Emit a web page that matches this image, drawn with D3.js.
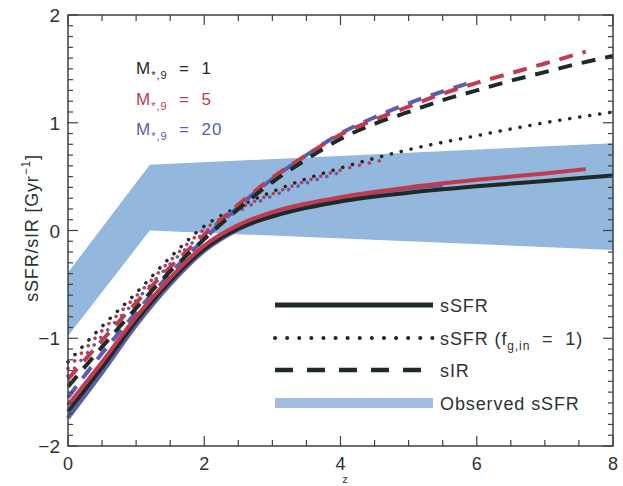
<!DOCTYPE html>
<html><head><meta charset="utf-8">
<script src="https://cdn.jsdelivr.net/npm/d3@7"></script>
<style>
html,body{margin:0;padding:0;background:#fff;}
svg text{font-family:"Liberation Sans",Arial,sans-serif;fill:#2a332f;}
</style></head>
<body><svg id="c" width="623" height="486"></svg>
<script>
// ---- data ----
const xTicks = [0, 2, 4, 6, 8];
const yTicks = [-2, -1, 0, 1, 2];
const yTickLabels = ["\u22122", "\u22121", "0", "1", "2"];

// observed sSFR band
const bandUpperZ = [0, 1.2, 8];
const bandUpperV = [-0.39, 0.61, 0.81];
const bandLowerZ = [0, 1.2, 8];
const bandLowerV = [-0.98, 0.0, -0.18];

// sSFR (solid)
const solidZ1 = [0, 0.5, 1, 1.5, 2, 2.5, 3, 3.5, 4, 5, 6, 7, 8];
const solidV1 = [-1.68, -1.27, -0.84, -0.47, -0.17, 0.02, 0.13, 0.21, 0.27, 0.35, 0.41, 0.46, 0.51];
const solidZ5 = [0, 0.5, 1, 1.5, 2, 2.5, 3, 3.5, 4, 5, 6, 7, 7.6];
const solidV5 = [-1.62, -1.22, -0.80, -0.44, -0.14, 0.05, 0.17, 0.25, 0.31, 0.40, 0.47, 0.53, 0.57];
const solidZ20 = [0, 0.5, 1, 1.5, 2, 2.5, 3, 3.5, 4, 5, 5.5];
const solidV20 = [-1.74, -1.32, -0.88, -0.50, -0.19, 0.01, 0.14, 0.23, 0.30, 0.39, 0.42];

// sSFR (f_g,in = 1) (dotted)
const dotZ1 = [0, 0.5, 1, 1.5, 2, 2.5, 3, 3.5, 4, 5, 6, 7, 8];
const dotV1 = [-1.22, -0.89, -0.58, -0.25, 0.04, 0.22, 0.36, 0.48, 0.58, 0.75, 0.88, 1.0, 1.1];
const dotZ5 = [0, 0.5, 1, 1.5, 2, 2.5, 3, 3.5, 4, 4.6];
const dotV5 = [-1.28, -0.93, -0.61, -0.28, 0.01, 0.20, 0.34, 0.46, 0.56, 0.65];
const dotZ20 = [0, 0.5, 1, 1.5, 2, 2.5, 3, 3.5, 4];
const dotV20 = [-1.35, -0.98, -0.65, -0.31, -0.02, 0.18, 0.32, 0.44, 0.54];

// sIR (dashed)
const dashZ1 = [0, 0.5, 1, 1.5, 2, 2.5, 3, 3.5, 4, 4.5, 5, 5.5, 6, 6.5, 7, 7.5, 8];
const dashV1 = [-1.45, -1.08, -0.72, -0.38, -0.08, 0.20, 0.45, 0.66, 0.85, 0.99, 1.10, 1.21, 1.30, 1.39, 1.47, 1.55, 1.62];
const dashZ5 = [0, 0.5, 1, 1.5, 2, 2.5, 3, 3.5, 4, 4.5, 5, 5.5, 6, 6.5, 7, 7.6];
const dashV5 = [-1.38, -1.02, -0.67, -0.34, -0.04, 0.24, 0.49, 0.70, 0.89, 1.03, 1.15, 1.27, 1.37, 1.46, 1.55, 1.66];
const dashZ20 = [0, 0.5, 1, 1.5, 2, 2.5, 3, 3.5, 4, 4.5, 5, 5.5, 5.85];
const dashV20 = [-1.55, -1.14, -0.76, -0.40, -0.08, 0.22, 0.48, 0.70, 0.90, 1.05, 1.18, 1.29, 1.36];

const massLabels = ["1", "5", "20"];
const colors = ["#1f2a27", "#c23a4e", "#5a5eae"];
const legendLabels = ["sSFR", "sSFR (f", "sIR", "Observed sSFR"];

// ---- drawing ----
const svg = d3.select("#c");
const x = d3.scaleLinear().domain([0, 8]).range([68, 613]);
const y = d3.scaleLinear().domain([-2, 2]).range([446, 15]);
const bandColor = "#93b7dd";
const frameColor = "#3a4440";

// band
const bandPts = bandUpperZ.map((z, i) => [x(z), y(bandUpperV[i])])
  .concat(bandLowerZ.map((z, i) => [x(z), y(bandLowerV[i])]).reverse());
svg.append("polygon").attr("points", bandPts.map(p => p.join(",")).join(" "))
  .attr("fill", bandColor);

const line = d3.line().x(d => x(d[0])).y(d => y(d[1])).curve(d3.curveMonotoneX);
const zip = (zs, vs) => zs.map((z, i) => [z, vs[i]]);

const series = [
  {z: dotZ20, v: dotV20, c: 2, type: "dot"},
  {z: dotZ5, v: dotV5, c: 1, type: "dot"},
  {z: dotZ1, v: dotV1, c: 0, type: "dot"},
  {z: dashZ20, v: dashV20, c: 2, type: "dash"},
  {z: dashZ5, v: dashV5, c: 1, type: "dash"},
  {z: dashZ1, v: dashV1, c: 0, type: "dash"},
  {z: solidZ20, v: solidV20, c: 2, type: "solid"},
  {z: solidZ1, v: solidV1, c: 0, type: "solid"},
  {z: solidZ5, v: solidV5, c: 1, type: "solid"},
];
const g = svg.append("g");
series.forEach(s => {
  const p = g.append("path").attr("d", line(zip(s.z, s.v)))
    .attr("fill", "none").attr("stroke", colors[s.c]);
  if (s.type === "solid") p.attr("stroke-width", 4);
  if (s.type === "dash") p.attr("stroke-width", 4).attr("stroke-dasharray", "14,10");
  if (s.type === "dot") p.attr("stroke-width", 3.5).attr("stroke-dasharray", "0.1,10").attr("stroke-linecap", "round");
});

// frame
svg.append("rect").attr("x", 68).attr("y", 15).attr("width", 545).attr("height", 431)
  .attr("fill", "none").attr("stroke", frameColor).attr("stroke-width", 1.5);

// ticks
const yMinor = d3.range(-2, 2.0001, 0.1);
yMinor.forEach(v => {
  const major = Math.abs(v - Math.round(v)) < 1e-6;
  const len = major ? 10 : 5;
  svg.append("line").attr("x1", 68).attr("x2", 68 + len).attr("y1", y(v)).attr("y2", y(v))
    .attr("stroke", frameColor).attr("stroke-width", 1.2);
  svg.append("line").attr("x1", 613).attr("x2", 613 - len).attr("y1", y(v)).attr("y2", y(v))
    .attr("stroke", frameColor).attr("stroke-width", 1.2);
});
const xMinor = d3.range(0, 8.0001, 0.5);
xMinor.forEach(v => {
  const major = Math.abs(v / 2 - Math.round(v / 2)) < 1e-6;
  const len = major ? 10 : 6;
  svg.append("line").attr("x1", x(v)).attr("x2", x(v)).attr("y1", 446).attr("y2", 446 - len)
    .attr("stroke", frameColor).attr("stroke-width", 1.2);
  svg.append("line").attr("x1", x(v)).attr("x2", x(v)).attr("y1", 15).attr("y2", 15 + len)
    .attr("stroke", frameColor).attr("stroke-width", 1.2);
});

// tick labels
yTicks.forEach((v, i) => {
  svg.append("text").attr("x", 60).attr("y", y(v) + 7).attr("text-anchor", "end")
    .attr("font-size", 19).text(yTickLabels[i]);
});
xTicks.forEach(v => {
  svg.append("text").attr("x", x(v)).attr("y", 470).attr("text-anchor", "middle")
    .attr("font-size", 18).text(v);
});
svg.append("text").attr("x", 345).attr("y", 483).attr("text-anchor", "middle")
  .attr("font-size", 11).text("z");

// y label
const yl = svg.append("text").attr("transform", "translate(38,228) rotate(-90)")
  .attr("text-anchor", "middle").attr("font-size", 18).attr("letter-spacing", 0.8);
yl.append("tspan").text("sSFR/sIR [Gyr");
yl.append("tspan").attr("font-size", 12).attr("dy", -8).text("\u22121");
yl.append("tspan").attr("dy", 8).text("]");

// mass legend
massLabels.forEach((m, i) => {
  const t = svg.append("text").attr("x", 136).attr("y", 74 + i * 30.5)
    .attr("font-size", 17).attr("letter-spacing", 1).style("fill", colors[i]);
  t.append("tspan").text("M");
  t.append("tspan").attr("font-size", 11).attr("dy", 5).text("*,9");
  t.append("tspan").attr("dy", -5).attr("xml:space", "preserve").text("  =  " + m);
});

// bottom legend
const lx1 = 275, lx2 = 433, ly = [305, 338, 370, 403];
svg.append("line").attr("x1", lx1).attr("x2", lx2).attr("y1", ly[0]).attr("y2", ly[0])
  .attr("stroke", colors[0]).attr("stroke-width", 5);
svg.append("line").attr("x1", lx1).attr("x2", lx2).attr("y1", ly[1]).attr("y2", ly[1])
  .attr("stroke", colors[0]).attr("stroke-width", 4).attr("stroke-dasharray", "0.1,12")
  .attr("stroke-linecap", "round");
svg.append("line").attr("x1", lx1).attr("x2", lx2 - 4).attr("y1", ly[2]).attr("y2", ly[2])
  .attr("stroke", colors[0]).attr("stroke-width", 4.5).attr("stroke-dasharray", "18,14");
svg.append("line").attr("x1", lx1).attr("x2", lx2).attr("y1", ly[3]).attr("y2", ly[3])
  .attr("stroke", "#a2bde0").attr("stroke-width", 10);
const txt = (i) => svg.append("text").attr("x", 440).attr("y", ly[i] + 7)
  .attr("font-size", 18).attr("letter-spacing", 0.9);
txt(0).text(legendLabels[0]);
const t1 = txt(1);
t1.append("tspan").text(legendLabels[1]);
t1.append("tspan").attr("font-size", 12).attr("dy", 5).text("g,in");
t1.append("tspan").attr("dy", -5).attr("xml:space", "preserve").text("  =  1)");
txt(2).text(legendLabels[2]);
txt(3).text(legendLabels[3]);
</script></body></html>
